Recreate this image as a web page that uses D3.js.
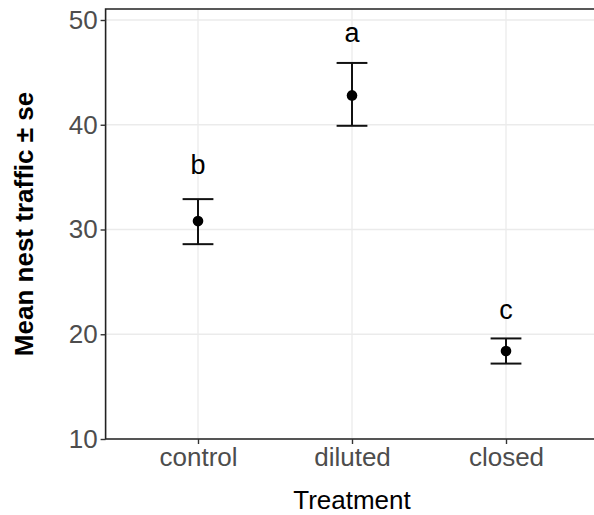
<!DOCTYPE html>
<html>
<head>
<meta charset="utf-8">
<title>Mean nest traffic</title>
<style>
    html, body { margin: 0; padding: 0; background: #fff; overflow: hidden; }
    svg { display: block; }
    text { font-family: "Liberation Sans", Arial, sans-serif; }
</style>
</head>
<body>
<div id="chart"></div>
<script src="https://d3js.org/d3.v7.min.js"></script>
<script>
// data
var treatments = ["control", "diluted", "closed"];
var means = [30.8, 42.8, 18.4];
var upper = [32.9, 45.9, 19.6];
var lower = [28.6, 39.9, 17.2];
var letters = ["b", "a", "c"];
var letterY = [36.2, 48.8, 22.4];
var yTicks = [10, 20, 30, 40, 50];

var W = 594, H = 515;
// panel edges (note: "top" is reserved on window, so use pTop etc)
var pLeft = 105.6, pRight = 598.4, pTop = 9, pBottom = 439;

var svg = d3.select("#chart").append("svg")
    .attr("width", W)
    .attr("height", H);

var x = d3.scalePoint()
    .domain(treatments)
    .range([pLeft, pRight])
    .padding(0.6);

var y = d3.scaleLinear()
    .domain([10, 51.05])
    .range([pBottom, pTop]);

// grid lines
svg.append("g").selectAll("line")
    .data(yTicks)
    .enter().append("line")
    .attr("x1", pLeft).attr("x2", pRight)
    .attr("y1", function (d) { return y(d); })
    .attr("y2", function (d) { return y(d); })
    .attr("stroke", "#ebebeb")
    .attr("stroke-width", 1.3);
svg.append("g").selectAll("line")
    .data(treatments)
    .enter().append("line")
    .attr("y1", pTop).attr("y2", pBottom)
    .attr("x1", function (d) { return x(d); })
    .attr("x2", function (d) { return x(d); })
    .attr("stroke", "#ebebeb")
    .attr("stroke-width", 1.3);

// panel border: top, left, bottom (right side is cut off in the original)
svg.append("path")
    .attr("d", "M" + pRight + "," + pTop + "H" + pLeft + "V" + pBottom + "H" + pRight)
    .attr("fill", "none")
    .attr("stroke", "#222")
    .attr("stroke-width", 1.6);

// axes
var yAxis = svg.append("g")
    .attr("transform", "translate(" + pLeft + ",0)")
    .call(d3.axisLeft(y).tickValues(yTicks).tickSize(5).tickPadding(3));
var xAxis = svg.append("g")
    .attr("transform", "translate(0," + pBottom + ")")
    .call(d3.axisBottom(x).tickSize(5).tickPadding(3));

[yAxis, xAxis].forEach(function (a) {
    a.select(".domain").remove();
    a.selectAll(".tick line").attr("stroke", "#333").attr("stroke-width", 1.4);
    a.selectAll(".tick text")
        .attr("fill", "#4d4d4d")
        .style("font-size", "26px")
        .style("font-family", "Liberation Sans, Arial, sans-serif");
});
xAxis.selectAll(".tick text").attr("dy", "0.72em");

// error bars
var capHalf = x.step() * 0.1;
var eb = svg.append("g").selectAll("g")
    .data(treatments)
    .enter().append("g");
eb.append("line")
    .attr("x1", function (d) { return x(d); })
    .attr("x2", function (d) { return x(d); })
    .attr("y1", function (d, i) { return y(upper[i]); })
    .attr("y2", function (d, i) { return y(lower[i]); })
    .attr("stroke", "#111").attr("stroke-width", 2);
eb.append("line")
    .attr("x1", function (d) { return x(d) - capHalf; })
    .attr("x2", function (d) { return x(d) + capHalf; })
    .attr("y1", function (d, i) { return y(upper[i]); })
    .attr("y2", function (d, i) { return y(upper[i]); })
    .attr("stroke", "#111").attr("stroke-width", 2);
eb.append("line")
    .attr("x1", function (d) { return x(d) - capHalf; })
    .attr("x2", function (d) { return x(d) + capHalf; })
    .attr("y1", function (d, i) { return y(lower[i]); })
    .attr("y2", function (d, i) { return y(lower[i]); })
    .attr("stroke", "#111").attr("stroke-width", 2);

// means
svg.append("g").selectAll("circle")
    .data(treatments)
    .enter().append("circle")
    .attr("cx", function (d) { return x(d); })
    .attr("cy", function (d, i) { return y(means[i]); })
    .attr("r", 5.3)
    .attr("fill", "#000");

// significance letters
svg.append("g").selectAll("text")
    .data(treatments)
    .enter().append("text")
    .attr("x", function (d) { return x(d); })
    .attr("y", function (d, i) { return y(letterY[i]); })
    .attr("dy", "0.36em")
    .attr("text-anchor", "middle")
    .style("font-size", "27px")
    .attr("fill", "#000")
    .text(function (d, i) { return letters[i]; });

// axis titles
svg.append("text")
    .attr("x", (pLeft + pRight) / 2)
    .attr("y", 509)
    .attr("text-anchor", "middle")
    .style("font-size", "26px")
    .attr("fill", "#000")
    .text("Treatment");

svg.append("text")
    .attr("transform", "translate(33," + ((pTop + pBottom) / 2) + ") rotate(-90)")
    .attr("text-anchor", "middle")
    .style("font-size", "26px")
    .style("font-weight", "bold")
    .attr("fill", "#000")
    .text("Mean nest traffic \u00b1 se");
</script>
</body>
</html>
